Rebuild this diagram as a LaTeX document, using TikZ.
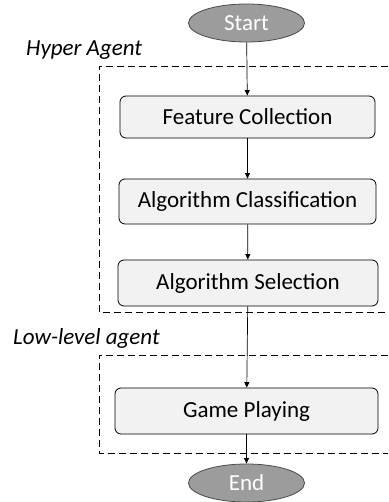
\documentclass[tikz,border=0pt]{standalone}
\usepackage{fontspec}
\setmainfont{Carlito}
\usetikzlibrary{shapes.geometric,arrows.meta}
\definecolor{ovalfill}{HTML}{9C9C9C}
\definecolor{ovaldraw}{HTML}{4A4A4A}
\definecolor{boxfill}{HTML}{F2F2F2}
\begin{document}
\begin{tikzpicture}[x=1pt,y=-1pt,
  oval/.style={ellipse,draw=ovaldraw,fill=ovalfill,line width=0.8pt,minimum width=116pt,minimum height=38pt,inner sep=0pt,text=white,font=\fontsize{23}{26}\selectfont},
  stepbox/.style={rectangle,rounded corners=6pt,draw=black,fill=boxfill,line width=0.8pt,minimum height=44pt,inner sep=0pt,font=\fontsize{23}{26}\selectfont},
  grouplabel/.style={anchor=base west,inner sep=0pt,font=\fontsize{23}{26}\selectfont\itshape},
  groupbox/.style={draw=black,line width=0.8pt,dash pattern=on 7pt off 4pt},
  flow/.style={draw=black,line width=0.7pt,-{Triangle[length=5.5pt,width=5pt]}}]
\useasboundingbox (0,0) rectangle (388,502);
\node[oval] (start) at (246.5,23) {Start};
\node[grouplabel] (hyper) at (26,56) {Hyper Agent};
\draw[groupbox] (388,66) -- (99,66) -- (99,312) -- (388,312);
\node[stepbox,minimum width=255pt,minimum height=42pt] (feat) at (247.5,117) {Feature Collection};
\node[stepbox,minimum width=257pt,minimum height=45pt] (cls) at (247.5,201.5) {Algorithm Classification};
\node[stepbox,minimum width=260pt,minimum height=46pt] (sel) at (248,283) {Algorithm Selection};
\node[grouplabel] (low) at (13,344) {Low-level agent};
\draw[groupbox] (388,355) -- (99,355) -- (99,453) -- (388,453);
\node[stepbox,minimum width=263pt,minimum height=46pt] (game) at (246.5,411) {Game Playing};
\node[oval] (end) at (246.5,483) {End};
\draw[flow] (start) -- (feat);
\draw[flow] (feat) -- (cls);
\draw[flow] (cls) -- (sel);
\draw[flow] (sel) -- (game);
\draw[flow] (game) -- (end);
\end{tikzpicture}
\end{document}
